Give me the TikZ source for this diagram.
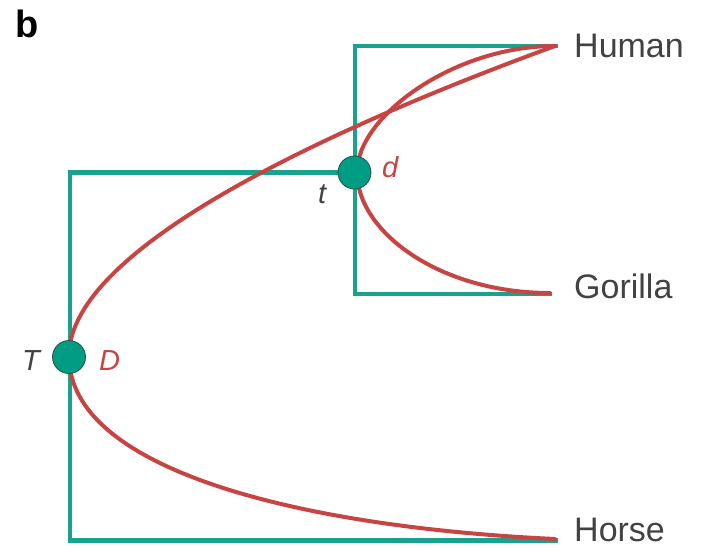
\documentclass[tikz,border=0pt]{standalone}
\usepackage{fontspec}
\setmainfont{Liberation Sans}
\definecolor{treeteal}{RGB}{24,163,142}
\definecolor{dotteal}{RGB}{0,156,132}
\definecolor{dotedge}{RGB}{40,80,72}
\definecolor{genered}{RGB}{200,68,66}
\definecolor{labgray}{RGB}{66,66,66}
\begin{document}
\begin{tikzpicture}[x=1pt,y=-1pt,
  treeline/.style={draw=treeteal,line width=4.5pt,line join=miter,line cap=butt},
  geneline/.style={draw=genered,line width=4pt,line cap=round},
  dupnode/.style={circle,fill=dotteal,draw=dotedge,line width=0.8pt,minimum size=33pt,inner sep=0pt},
  leaflabel/.style={anchor=base west,text=labgray,font=\fontsize{34}{36}\selectfont,inner sep=0pt},
  speclabel/.style={anchor=base west,text=labgray,font=\fontsize{29}{32}\selectfont\itshape,inner sep=0pt},
  genelabel/.style={anchor=base west,text=genered,font=\fontsize{29}{32}\selectfont\itshape,inner sep=0pt}]
\path[use as bounding box] (0,0) rectangle (702,547);
% coordinates
\coordinate (huleaf) at (558,46);
\coordinate (goleaf) at (552,294);
\coordinate (holeaf) at (558,540.5);
\coordinate (hured) at (555,46);
\coordinate (gored) at (550,293);
\coordinate (hored) at (555,539);
\coordinate (Dv) at (69,356);
\coordinate (dv) at (357,172);
% species tree
\node[dupnode,draw=none,fill=none] (tpos) at (355,172.5) {};
\node[dupnode,draw=none,fill=none] (Tpos) at (70,356) {};
\draw[treeline] (tpos.center) -| (Tpos.center) |- (holeaf);
\draw[treeline] (huleaf) -| (tpos.center) |- (goleaf);
% gene tree
\draw[geneline] (Dv) .. controls (69,236) and (391,106) .. (hured);
\draw[geneline] (Dv) .. controls (69,470) and (300,527) .. (hored);
\draw[geneline] (dv) .. controls (357,117) and (453,46) .. (hured);
\draw[geneline] (dv) .. controls (357,232) and (440,293) .. (gored);
% duplication / speciation dots
\node[dupnode] (tdot) at (354.5,172.5) {};
\node[dupnode] (Tdot) at (69,357) {};
% labels
\node[anchor=base west,inner sep=0pt,font=\fontsize{38}{40}\selectfont\bfseries] (blab) at (15,37) {b};
\node[leaflabel] (human) at (574,57) {Human};
\node[leaflabel] (gorilla) at (574,298) {Gorilla};
\node[leaflabel] (horse) at (574,541) {Horse};
\node[genelabel] (dlab) at (382,177) {d};
\node[speclabel] (tlab) at (318,203) {t};
\node[speclabel] (Tlab) at (22,370) {T};
\node[genelabel] (Dlab) at (99,370) {D};
\end{tikzpicture}
\end{document}
